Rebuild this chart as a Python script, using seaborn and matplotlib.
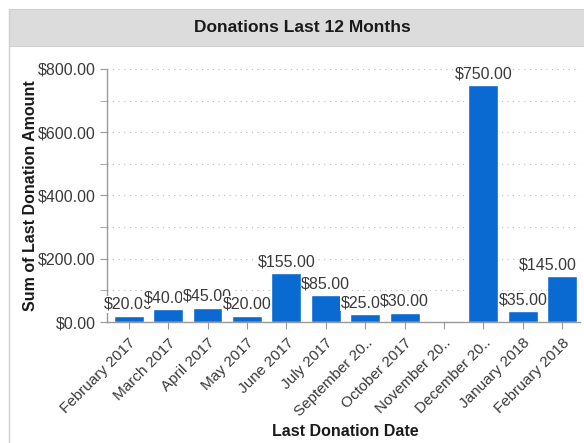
import numpy as np
import pandas as pd
import matplotlib
matplotlib.use("Agg")
import matplotlib.pyplot as plt
import seaborn as sns
from matplotlib.patches import Rectangle
from matplotlib.lines import Line2D
from matplotlib.ticker import MultipleLocator, FuncFormatter

months = ["February 2017", "March 2017", "April 2017", "May 2017", "June 2017",
          "July 2017", "September 20..", "October 2017", "November 20..",
          "December 20..", "January 2018", "February 2018"]
amounts = [20, 40, 45, 20, 155, 85, 25, 30, np.nan, 750, 35, 145]

sns.set_style("white")
plt.rcParams['font.family'] = ['Liberation Sans', 'DejaVu Sans']

df = pd.DataFrame({"month": months, "amount": amounts})

fig = plt.figure(figsize=(5.84, 4.43), dpi=100)

# panel header + border
fig.patches.append(Rectangle((9 / 584, 1 - 46 / 443), 1, 37 / 443, transform=fig.transFigure,
                             facecolor="#dcdcdc", edgecolor="#d0d0d0", lw=0.8, zorder=0))
fig.lines.append(Line2D([9 / 584, 9 / 584], [0, 1 - 9 / 443], transform=fig.transFigure,
                        color="#d0d0d0", lw=1))
fig.text(0.518, 1 - 28 / 443, "Donations Last 12 Months", ha="center", va="center",
         fontsize=12.5, fontweight="bold", color="#1a1a1a")

ax = fig.add_axes([107 / 584, 1 - 322 / 443, (580 - 107) / 584, (322 - 69) / 443])
sns.barplot(data=df, x="month", y="amount", order=months, color="#0a6ad2",
            saturation=1, width=0.76, ax=ax)

ax.set_ylim(0, 800)
ax.set_xlim(-0.55, len(months) - 0.55)
ax.yaxis.set_major_locator(MultipleLocator(200))
ax.yaxis.set_minor_locator(MultipleLocator(100))
ax.yaxis.set_major_formatter(FuncFormatter(lambda v, p: f"${v:,.2f}"))
ax.grid(axis="y", which="both", linestyle=(0, (1, 4)), color="#bbbbbb", lw=0.8)
ax.set_axisbelow(True)

for s in ["top", "right"]:
    ax.spines[s].set_visible(False)
for s in ["left", "bottom"]:
    ax.spines[s].set_color("#999999")
    ax.spines[s].set_linewidth(1)

ax.tick_params(axis="y", which="both", left=True, length=5, color="#999999",
               labelsize=11.5, labelcolor="#3a3a3a", pad=3)
ax.tick_params(axis="x", bottom=True, length=5, color="#999999",
               labelsize=11, labelcolor="#3a3a3a", pad=5)
plt.setp(ax.get_xticklabels(), rotation=45, ha="right", rotation_mode="anchor")

for i, v in enumerate(amounts):
    if np.isnan(v):
        continue
    if i == len(amounts) - 1:
        # last label is pulled inside the plot area
        x, ha = i + 0.38, "right"
    else:
        x, ha = i, "center"
    ax.text(x, v + 12, f"${v:,.2f}", ha=ha, va="bottom", fontsize=11.5,
            color="#3a3a3a", bbox=dict(facecolor="white", edgecolor="none", pad=0.5))

ax.set_xlabel("Last Donation Date", fontsize=11.5, fontweight="bold", color="#1a1a1a")
ax.xaxis.set_label_coords(0.503, -0.405)
ax.set_ylabel("Sum of Last Donation Amount", fontsize=11.5, fontweight="bold", color="#1a1a1a")
ax.yaxis.set_label_coords(-0.145, 0.5)

fig.savefig("out.png", dpi=100)
